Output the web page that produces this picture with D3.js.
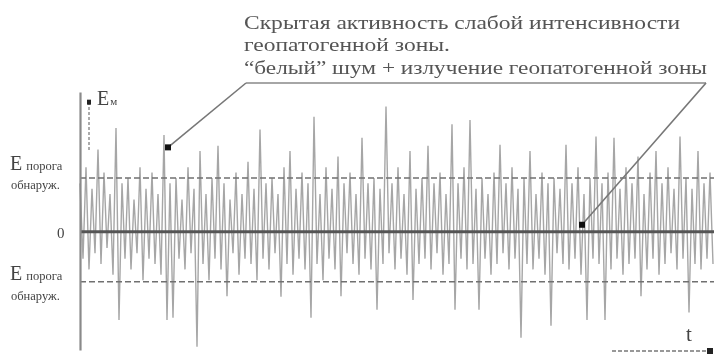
<!DOCTYPE html>
<html><head><meta charset="utf-8">
<script src="https://cdn.jsdelivr.net/npm/d3@7"></script>
<style>
html,body{margin:0;padding:0;background:#fff;}
svg{display:block;filter:blur(0.55px);}
</style></head>
<body>
<svg id="chart" width="714" height="357"></svg>
<script>
// ---- data ----
const titleLines = [
  "Скрытая активность слабой интенсивности",
  "геопатогенной зоны.",
  "“белый” шум + излучение геопатогенной зоны"
];
const thresholdUp = 1.0;
const thresholdDown = -0.93;
const yLabel = ["E", "м"];
const thresholdLabel = ["E", "порога", "обнаруж."];
const zeroLabel = "0";
const timeLabel = "t";
// signal samples (units: upper detection threshold = 1)
const signal = [
  0.9,-0.5,1.2,-0.7,0.8,-0.4,1.53,-0.6,1.1,-0.3,
  0.7,-0.8,1.93,-1.64,0.9,-0.5,1.0,-0.7,0.6,-0.4,
  1.2,-0.9,0.8,-0.5,1.1,-0.6,0.7,-0.8,1.8,-1.64,
  0.9,-1.6,1.0,-0.5,0.6,-0.7,1.2,-0.4,0.8,-2.14,
  1.5,-0.6,0.7,-0.9,1.0,-0.5,1.6,-0.7,0.9,-1.2,
  0.6,-0.4,1.1,-0.8,0.7,-0.5,1.3,-0.6,0.8,-0.9,
  1.9,-0.5,0.9,-0.7,1.0,-0.4,0.7,-1.21,1.2,-0.6,
  1.5,-0.8,0.8,-0.5,1.1,-0.7,0.9,-1.6,2.14,-0.6,
  0.7,-0.9,1.2,-0.5,0.8,-0.7,1.4,-1.2,0.9,-0.4,
  1.1,-0.6,0.7,-0.8,1.75,-0.5,0.9,-0.7,1.0,-1.45,
  0.8,-0.6,2.33,-0.4,0.9,-0.7,1.2,-0.5,0.7,-0.8,
  1.5,-1.27,0.8,-0.6,1.0,-0.5,1.6,-0.7,0.9,-0.4,
  1.1,-0.8,0.7,-0.6,2.0,-1.45,0.9,-0.5,1.2,-0.7,
  2.08,-0.6,0.8,-1.45,1.0,-0.5,0.7,-0.8,1.1,-0.6,
  1.62,-0.4,0.9,-0.7,1.2,-0.5,0.8,-1.97,1.0,-0.6,
  1.5,-0.7,0.7,-0.5,1.1,-0.8,0.9,-1.75,1.0,-0.4,
  0.8,-0.6,1.62,-0.7,0.9,-0.5,1.2,-0.8,0.7,-1.64,
  1.0,-0.5,1.77,-0.6,0.9,-1.64,1.1,-0.7,1.75,-0.5,
  0.8,-0.8,1.2,-0.6,0.9,-0.5,1.4,-1.2,0.7,-0.7,
  1.1,-0.5,1.5,-0.8,0.9,-0.6,1.2,-0.4,0.8,-0.7,
  1.77,-0.5,1.0,-1.5,0.8,-0.6,1.5,-0.7,0.9,-0.5,
  1.1,-0.6
];
// annotation targets: [sample index, value]
const annotLeft = [29, 1.57];
const annotRight = [167, 0.13];

// ---- drawing ----
const svg = d3.select("#chart");
const serif = "'Liberation Serif','DejaVu Serif',serif";
const x = d3.scaleLinear().domain([0, signal.length - 1]).range([80, 713]);
const y = d3.scaleLinear().domain([-2.2, 2.6]).range([350, 92]);

// noise trace
svg.append("path")
  .datum(signal)
  .attr("fill", "none")
  .attr("stroke", "#888")
  .attr("stroke-width", 1.4)
  .attr("stroke-opacity", 0.75)
  .attr("stroke-linejoin", "miter")
  .attr("d", d3.line().x((d, i) => x(i)).y(d => y(d)));

// zero line
svg.append("line")
  .attr("x1", 80).attr("x2", 714)
  .attr("y1", y(0)).attr("y2", y(0))
  .attr("stroke", "#555").attr("stroke-width", 2.8);

// thresholds
[thresholdUp, thresholdDown].forEach(t => {
  svg.append("line")
    .attr("x1", 80).attr("x2", 714)
    .attr("y1", y(t)).attr("y2", y(t))
    .attr("stroke", "#707070").attr("stroke-width", 1.7)
    .attr("stroke-dasharray", "6,3");
});

// y axis (line only)
const yAxis = svg.append("g").attr("transform", "translate(80,0)")
  .call(d3.axisLeft(y).tickValues([]).tickSizeOuter(0));
yAxis.select(".domain").attr("stroke", "#8a8a8a").attr("stroke-width", 2.2);

// small E arrow
svg.append("line").attr("x1", 89).attr("x2", 89).attr("y1", y(1.52)).attr("y2", y(2.42))
  .attr("stroke", "#888").attr("stroke-width", 1.4).attr("stroke-dasharray", "3,2");
svg.append("rect").attr("x", 87).attr("y", y(2.42) - 2).attr("width", 4).attr("height", 5).attr("fill", "#222");
const eLab = svg.append("text").attr("x", 97).attr("y", y(2.35)).attr("font-family", serif)
  .attr("font-size", 20).attr("fill", "#444").text(yLabel[0]);
eLab.append("tspan").attr("font-size", 11).attr("dx", 1).text(yLabel[1]);

// left labels
[[thresholdUp, 170, 189], [thresholdDown, 280, 300]].forEach(([t, b1, b2]) => {
  const tx = svg.append("text").attr("x", 10).attr("y", b1).attr("font-family", serif)
    .attr("font-size", 20).attr("fill", "#444").text(thresholdLabel[0]);
  tx.append("tspan").attr("font-size", 12.5).attr("dx", 4).text(thresholdLabel[1]);
  svg.append("text").attr("x", 11).attr("y", b2).attr("font-family", serif)
    .attr("font-size", 12.5).attr("fill", "#444").text(thresholdLabel[2]);
});
svg.append("text").attr("x", 57).attr("y", y(0) + 6).attr("font-family", serif)
  .attr("font-size", 15).attr("fill", "#444").text(zeroLabel);

// time axis arrow
svg.append("line").attr("x1", 612).attr("x2", 710).attr("y1", 351).attr("y2", 351)
  .attr("stroke", "#777").attr("stroke-width", 1.4).attr("stroke-dasharray", "4,2");
svg.append("rect").attr("x", 707).attr("y", 348).attr("width", 6).attr("height", 6).attr("fill", "#222");
svg.append("text").attr("x", 686).attr("y", 341).attr("font-family", serif)
  .attr("font-size", 21).attr("fill", "#444").text(timeLabel);

// title text
const widths = [436, 206, 463];
const bases = [29, 51, 74];
titleLines.forEach((s, i) => {
  svg.append("text").attr("x", 244).attr("y", bases[i]).attr("font-family", serif)
    .attr("font-size", 19).attr("fill", "#555")
    .attr("textLength", widths[i]).attr("lengthAdjust", "spacingAndGlyphs").text(s);
});
// underline
svg.append("line").attr("x1", 246).attr("x2", 706).attr("y1", 83).attr("y2", 83)
  .attr("stroke", "#888").attr("stroke-width", 1.6);

// leader lines + markers
[[246, annotLeft], [706, annotRight]].forEach(([sx, a]) => {
  const tx = x(a[0]) + 1, ty = y(a[1]);
  svg.append("line").attr("x1", sx).attr("y1", 83).attr("x2", tx).attr("y2", ty)
    .attr("stroke", "#777").attr("stroke-width", 1.6);
  svg.append("rect").attr("x", tx - 3).attr("y", ty - 3).attr("width", 6).attr("height", 6).attr("fill", "#111");
});
</script>
</body></html>
